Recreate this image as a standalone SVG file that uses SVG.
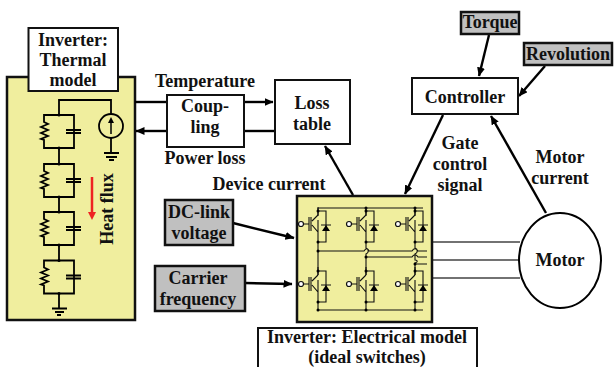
<svg xmlns="http://www.w3.org/2000/svg" xmlns:xlink="http://www.w3.org/1999/xlink" width="614" height="367" viewBox="0 0 614 367">
<style>
text{font-family:"Liberation Serif","Times New Roman",serif;font-weight:bold;font-size:18px;fill:#111;text-anchor:middle}
.box{stroke:#111;stroke-width:2;fill:#fff}
.gray{fill:#c0c0c0;stroke-width:2.5}
.yel{fill:#f0ee9e;stroke-width:2.5}
.c{fill:none;stroke:#000;stroke-width:1.800}
.s{fill:none;stroke:#111;stroke-width:1.100}
.a{fill:none;stroke:#000;stroke-width:2.400;marker-end:url(#ah)}
.w{fill:none;stroke:#444;stroke-width:1.500}
</style>
<defs>
<marker id="ah" markerUnits="userSpaceOnUse" markerWidth="10" markerHeight="10" refX="8.500" refY="4" orient="auto"><path d="M0 0L9 4L0 8Z" fill="#000"/></marker>
<g id="rc">
<path class="c" d="M59 0H44V7L48 9 41 12 48 15 41 18 48 21 41 24 44 25V33H74V0H59M74 0V15M74 18V33M66 15H81M66 18H81"/>
<circle cx="59" cy="0" r="1.500"/><circle cx="59" cy="33" r="1.500"/>
</g>
<g id="sw">
<path class="s" d="M0 -8V4L-6 -3M-6 -7L0 -13M0 -21V-13M0 -17H8V14H0M0 14V4M-7 -11V3M-9 -11V3M-9 -4H-15M3 -3H13"/>
<circle cx="-17" cy="-4" r="2.500" fill="#fff" stroke="#111" stroke-width="1.200"/>
<path d="M4 3L8 -3L12 3Z" fill="#000"/>
<circle cx="0" cy="-17" r="1.500"/><circle cx="0" cy="14" r="1.500"/>
</g>
</defs>
<g id="thermal-model">
<rect class="box yel" x="7" y="77" width="128" height="243"/>
<rect class="box" x="28.500" y="28" width="89.500" height="63" stroke-width="1.500"/>
<text x="73" y="46">Inverter:</text><text x="73" y="66">Thermal</text><text x="73" y="86">model</text>
<path class="c" d="M59 115V100H111V114M111 138V153M104 153H119M106 157H117M109 160H114M59 148V164M59 197V212M59 245V260M59 294V308M52 308.500H67M55 312H64M57 315H61"/>
<circle cx="111" cy="126" r="12" fill="none" stroke="#000" stroke-width="1.800"/>
<path d="M111 134V122" stroke="#000" stroke-width="1.500"/><path d="M108 123L111 117L114 123Z"/>
<use xlink:href="#rc" y="115"/><use xlink:href="#rc" y="164"/><use xlink:href="#rc" y="212"/><use xlink:href="#rc" y="260.500"/>
<path d="M92 177V215" stroke="#ee2222" stroke-width="2.500"/><path d="M88 212H96L92 220Z" fill="#ee2222"/>
<text transform="translate(113 209) rotate(-90)">Heat flux</text>
</g>
<g id="connectors">
<path class="c" style="stroke-width:2.400" d="M135 102H167"/>
<path class="a" d="M244 102H273"/>
<path class="c" style="stroke-width:2.400" d="M275 131H244"/>
<path class="a" d="M167 131H136"/>
<path class="a" d="M353 195L325 146"/>
<path class="a" d="M489 35L479 76"/>
<path class="a" d="M545 66L519 96"/>
<path class="a" d="M443 115L405 194"/>
<path class="a" d="M546 213L491 116"/>
<path class="a" d="M233 223L294 238"/>
<path class="a" d="M245 283L292 284"/>
<path class="w" d="M432 242H520M432 260H519M432 278H520"/>
</g>
<g id="coupling"><rect class="box" x="167" y="95" width="77" height="52"/><text x="205" y="112">Coup-</text><text x="205" y="133">ling</text></g>
<g id="loss-table"><rect class="box" x="275" y="80" width="75" height="64"/><text x="312" y="109">Loss</text><text x="312" y="130">table</text></g>
<g id="labels"><text x="205" y="87">Temperature</text><text x="205" y="164">Power loss</text><text x="269" y="190">Device current</text><text x="460" y="149">Gate</text><text x="460" y="170">control</text><text x="460" y="191">signal</text><text x="560" y="163">Motor</text><text x="560" y="184">current</text></g>
<g id="controller"><rect class="box" x="412" y="78" width="106" height="36"/><text x="465" y="103">Controller</text></g>
<g id="torque"><rect class="box gray" x="461" y="12" width="58" height="22"/><text x="490" y="28">Torque</text></g>
<g id="revolution"><rect class="box gray" x="524" y="43" width="88" height="22"/><text x="568" y="60">Revolution</text></g>
<g id="dc-link"><rect class="box gray" x="165" y="200" width="68" height="45"/><text x="199" y="218">DC-link</text><text x="199" y="239">voltage</text></g>
<g id="carrier"><rect class="box gray" x="155" y="266" width="90" height="45"/><text x="198" y="284">Carrier</text><text x="198" y="305">frequency</text></g>
<g id="electrical-model">
<rect class="box yel" x="297" y="196" width="135" height="126"/>
<path class="s" d="M318 208H423M318 310H423M318 208V216M366 208V216M415 208V216M318 302V310M366 302V310M415 302V310M318 242V275M366 242V248C369 249 369 253 366 254V275M415 242V248C418 249 418 253 415 254V260C418 260 418 262 415 263V275M318 251H364C366 248 368 248 369 251H412C414 248 416 248 418 251H427M366 257H412C414 254 416 254 418 257H427M415 264H427"/>
<circle cx="318" cy="251" r="1.500"/><circle cx="366" cy="257" r="1.500"/><circle cx="415" cy="264" r="1.500"/>
<circle cx="366" cy="208" r="1.500"/><circle cx="415" cy="208" r="1.500"/><circle cx="366" cy="310" r="1.500"/><circle cx="318" cy="310" r="1.500"/><circle cx="415" cy="310" r="1.500"/>
<use xlink:href="#sw" x="318" y="228"/><use xlink:href="#sw" x="366" y="228"/><use xlink:href="#sw" x="415" y="228"/>
<use xlink:href="#sw" x="318" y="288"/><use xlink:href="#sw" x="366" y="288"/><use xlink:href="#sw" x="415" y="288"/>
</g>
<g id="electrical-label"><rect class="box" x="258" y="328" width="219" height="45" stroke-width="1.500"/><text x="367" y="343">Inverter: Electrical model</text><text x="367" y="363">(ideal switches)</text></g>
<g id="motor"><ellipse cx="560" cy="260.500" rx="41" ry="47.500" fill="#fff" stroke="#000" stroke-width="2"/><text x="560" y="266">Motor</text></g>
</svg>
